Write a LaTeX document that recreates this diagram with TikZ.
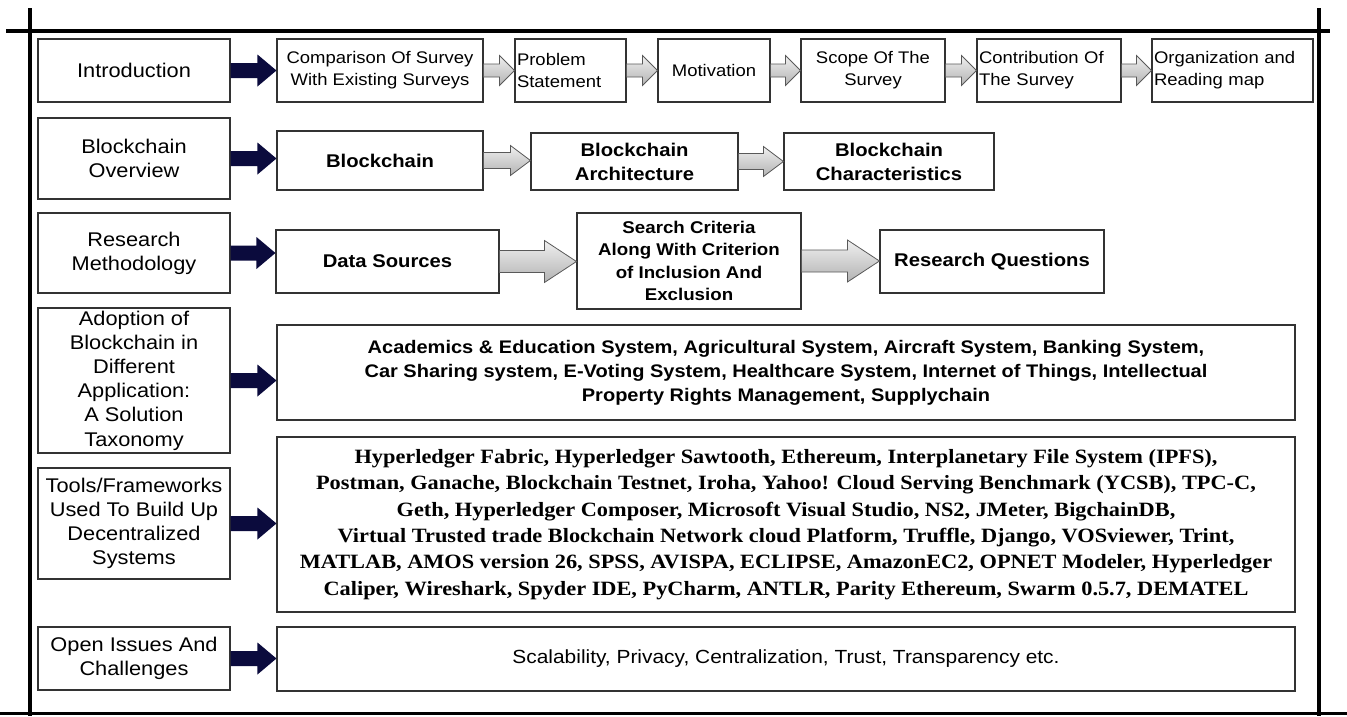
\documentclass[tikz,border=0pt]{standalone}
\usepackage{fontspec}
\setmainfont{Liberation Sans}[FakeStretch=1.1]
\newfontfamily\listfont{Liberation Serif}[FakeStretch=1.1]
\usetikzlibrary{calc}
\definecolor{navyarrow}{HTML}{0B0B3D}
\definecolor{boxline}{HTML}{333333}

\begin{document}
\begin{tikzpicture}[x=1pt,y=-1pt,
rule/.style={line width=3.4pt,draw=black},
box/.style={draw=boxline,line width=1.1pt,fill=white,align=center,inner sep=1pt},
side/.style={box,minimum width=192pt,inner xsep=0pt,font=\fontsize{19.8}{24.2}\selectfont},
stage/.style={box,inner xsep=2pt,minimum height=63pt,font=\fontsize{16.8}{22}\selectfont},
part/.style={box,font=\bfseries\fontsize{18.4}{24}\selectfont},
crit/.style={box,font=\bfseries\fontsize{17}{22.3}\selectfont},
wide/.style={box,minimum width=1018pt},
blockarrow/.style n args={3}{to path={let \p1=(\tikztostart), \p2=(\tikztotarget) in
 (\x1,\y1+#1) -- (\x2-#3,\y1+#1) -- (\x2-#3,\y1+#2) -- (\x2,\y1)
 -- (\x2-#3,\y1-#2) -- (\x2-#3,\y1-#1) -- (\x1,\y1-#1) -- cycle}},
darkarrow/.style={blockarrow={7.5pt}{16pt}{19pt},fill=navyarrow},
grayarrow/.style n args={3}{blockarrow={#1}{#2}{#3},draw=gray!70!black,line width=0.8pt,
 top color=gray!12,bottom color=gray!60}]
\useasboundingbox (0,0) rectangle (1347,716);

\draw[rule] (6,31) -- (1330,31);
\draw[rule] (30,8) -- (30,716);
\draw[rule] (1319,8) -- (1319,716);
\draw[rule] (0,713.5) -- (1347,713.5);

\node[side,minimum height=63pt] (intro) at (134,70.5) {Introduction};
\node[side,minimum height=81pt] (bov) at (134,158.5) {Blockchain\\Overview};
\node[side,minimum height=80pt] (meth) at (134,253) {Research\\Methodology};
\node[side,minimum height=145pt] (adopt) at (134,380.5) {Adoption of\\Blockchain in\\Different\\Application:\\A Solution\\Taxonomy};
\node[side,minimum height=111pt] (tools) at (134,523.5) {Tools/Frameworks\\Used To Build Up\\Decentralized\\Systems};
\node[side,minimum height=63pt] (open) at (134,658.5) {Open Issues And\\Challenges};

\node[stage,minimum width=206pt] (cmp) at (380,70.5) {Comparison Of Survey\\With Existing Surveys};
\node[stage,text width=107pt,align=left] (prob) at (570.5,70.5) {Problem\\Statement};
\node[stage,minimum width=112pt] (motiv) at (714,70.5) {Motivation};
\node[stage,minimum width=144pt] (scope) at (873,70.5) {Scope Of The\\Survey};
\node[stage,text width=140pt,align=left] (contrib) at (1049,70.5) {Contribution Of\\The Survey};
\node[stage,text width=157pt,align=left] (org) at (1232.5,70.5) {Organization and\\Reading map};

\node[part,minimum width=206pt,minimum height=59pt] (chain) at (380,160.5) {Blockchain};
\node[part,minimum width=207pt,minimum height=57pt] (arch) at (634.5,161.5) {Blockchain\\Architecture};
\node[part,minimum width=210pt,minimum height=57pt] (trait) at (889,161.5) {Blockchain\\Characteristics};

\node[part,minimum width=223pt,minimum height=63pt] (data) at (387.5,261.5) {Data Sources};
\node[crit,minimum width=224pt,minimum height=96pt] (search) at (689,261) {Search Criteria\\Along With Criterion\\of Inclusion And\\Exclusion};
\node[part,minimum width=224pt,minimum height=63pt] (rq) at (992,261.5) {Research Questions};

\node[wide,minimum height=95pt,font=\bfseries\fontsize{18.2}{24}\selectfont] (apps) at (786,372.5)
 {Academics \& Education System, Agricultural System, Aircraft System, Banking System,\\
 Car Sharing system, E-Voting System, Healthcare System, Internet of Things, Intellectual\\
 Property Rights Management, Supplychain};
\node[wide,minimum height=175pt,font=\listfont\bfseries\fontsize{20.3}{26.4}\selectfont] (list) at (786,524.5)
 {Hyperledger Fabric, Hyperledger Sawtooth, Ethereum, Interplanetary File System (IPFS),\\
 Postman, Ganache, Blockchain Testnet, Iroha, Yahoo! Cloud Serving Benchmark (YCSB), TPC-C,\\
 Geth, Hyperledger Composer, Microsoft Visual Studio, NS2, JMeter, BigchainDB,\\
 Virtual Trusted trade Blockchain Network cloud Platform, Truffle, Django, VOSviewer, Trint,\\
 MATLAB, AMOS version 26, SPSS, AVISPA, ECLIPSE, AmazonEC2, OPNET Modeler, Hyperledger\\
 Caliper, Wireshark, Spyder IDE, PyCharm, ANTLR, Parity Ethereum, Swarm 0.5.7, DEMATEL};
\node[wide,minimum height=64pt,font=\fontsize{19}{23}\selectfont] (issues) at (786,659)
 {Scalability, Privacy, Centralization, Trust, Transparency etc.};

\fill[darkarrow] (intro.east) to (cmp.west);
\fill[darkarrow] (bov.east) to (chain.west);
\fill[darkarrow] (meth.east) to (data.west);
\fill[darkarrow] (adopt.east) to (apps.west);
\fill[darkarrow] (tools.east) to (list.west);
\fill[darkarrow] (open.east) to (issues.west);

\path[grayarrow={6.5pt}{15pt}{15pt}] (cmp.east) to (prob.west);
\path[grayarrow={6.5pt}{15pt}{15pt}] (prob.east) to (motiv.west);
\path[grayarrow={6.5pt}{15pt}{15pt}] (motiv.east) to (scope.west);
\path[grayarrow={6.5pt}{15pt}{15pt}] (scope.east) to (contrib.west);
\path[grayarrow={6.5pt}{15pt}{15pt}] (contrib.east) to (org.west);
\path[grayarrow={8pt}{15pt}{20pt}] (chain.east) to (arch.west);
\path[grayarrow={8pt}{15pt}{20pt}] (arch.east) to (trait.west);
\path[grayarrow={11pt}{21pt}{32pt}] (data.east) to (search.west);
\path[grayarrow={11pt}{21pt}{32pt}] (search.east) to (rq.west);
\end{tikzpicture}
\end{document}
